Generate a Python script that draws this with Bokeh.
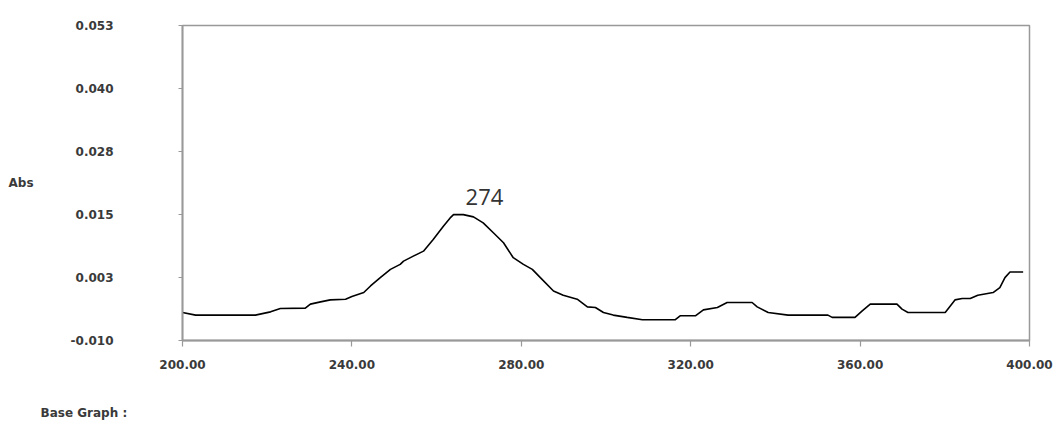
from bokeh.plotting import figure
from bokeh.models import Range1d, FixedTicker, NumeralTickFormatter, Label, Title
from bokeh.embed import file_html
from bokeh.resources import INLINE

# Wavelength (nm) and absorbance
wavelength = [200.0, 203.1, 217.2, 220.8, 223.1, 229.0, 230.2, 232.6, 234.9, 238.5,
              240.0, 242.8, 244.4, 246.7, 249.1, 251.4, 252.2, 254.5, 256.9, 259.2,
              261.6, 263.2, 264.0, 266.3, 268.7, 271.0, 273.4, 275.8, 278.1, 280.5,
              282.6, 284.5, 287.6, 289.9, 293.2, 295.6, 297.5, 299.4, 301.7, 305.0,
              308.6, 316.3, 317.5, 321.1, 323.0, 326.3, 328.6, 334.5, 335.7, 338.3,
              343.0, 352.4, 353.4, 358.8, 360.5, 362.4, 368.7, 369.9, 371.3, 380.1,
              382.4, 384.1, 386.0, 387.8, 391.4, 393.0, 394.2, 395.4, 398.5]
absorbance = [-0.00439, -0.00492, -0.00492, -0.00427, -0.00359, -0.00353, -0.00273, -0.00228, -0.00188, -0.00174,
              -0.00120, -0.00041, 0.00091, 0.00258, 0.00423, 0.00523, 0.00588, 0.00688, 0.00787, 0.01020,
              0.01285, 0.01452, 0.01518, 0.01518, 0.01472, 0.01353, 0.01154, 0.00955, 0.00656, 0.00523,
              0.00423, 0.00258, -0.00009, -0.00094, -0.00174, -0.00327, -0.00339, -0.00439, -0.00492, -0.00538,
              -0.00586, -0.00586, -0.00506, -0.00506, -0.00387, -0.00339, -0.00240, -0.00240, -0.00327, -0.00439,
              -0.00492, -0.00492, -0.00538, -0.00538, -0.00407, -0.00273, -0.00273, -0.00373, -0.00439, -0.00439,
              -0.00188, -0.00160, -0.00160, -0.00094, -0.00041, 0.00059, 0.00258, 0.00369, 0.00369]

x_ticks = [200, 240, 280, 320, 360, 400]
y_ticks = [-0.010, 0.0026, 0.0152, 0.0278, 0.0404, 0.053]
x_min, x_max = 200, 400
y_min, y_max = -0.010, 0.053

peak_text = "274"
peak_label_x = 271.3
peak_label_y = 0.0172
y_axis_title = "Abs"
footer_text = "Base Graph :"

p = figure(width=1053, height=422, output_backend="svg", toolbar_location=None,
           x_range=Range1d(x_min, x_max), y_range=Range1d(y_min, y_max),
           min_border_left=182, min_border_right=24, min_border_top=25, min_border_bottom=81)

p.background_fill_color = "white"
p.border_fill_color = "white"
p.outline_line_color = "#999999"
p.outline_line_width = 1.5
p.xgrid.visible = False
p.ygrid.visible = False

p.line(wavelength, absorbance, line_color="black", line_width=1.6)

axis_color = "#999999"
label_color = "#3a3a3a"

p.xaxis.ticker = FixedTicker(ticks=x_ticks)
p.xaxis.formatter = NumeralTickFormatter(format="0.00")
p.yaxis.ticker = FixedTicker(ticks=y_ticks)
p.yaxis.formatter = NumeralTickFormatter(format="0.000")

for ax in (p.xaxis[0], p.yaxis[0]):
    ax.axis_line_color = axis_color
    ax.axis_line_width = 1.8
    ax.major_tick_line_color = axis_color
    ax.major_tick_line_width = 1.2
    ax.major_tick_in = 0
    ax.minor_tick_line_color = None
    ax.major_label_text_font = "DejaVu Sans"
    ax.major_label_text_font_style = "bold"
    ax.major_label_text_font_size = "12px"
    ax.major_label_text_color = label_color

p.xaxis.major_tick_out = 6
p.xaxis.major_label_standoff = 13
p.yaxis.major_tick_out = 4
p.yaxis.major_label_standoff = 65

# blank x-axis label only reserves space so the footer sits near the bottom edge
p.xaxis.axis_label = " "
p.xaxis.axis_label_standoff = 12
p.xaxis.axis_label_text_font_size = "12px"

p.yaxis.axis_label = y_axis_title
p.yaxis.axis_label_orientation = "horizontal"
p.yaxis.axis_label_standoff = 34
p.yaxis.axis_label_text_font = "DejaVu Sans"
p.yaxis.axis_label_text_font_style = "bold"
p.yaxis.axis_label_text_font_size = "12px"
p.yaxis.axis_label_text_color = label_color

p.add_layout(Label(x=peak_label_x, y=peak_label_y, text=peak_text,
                   text_align="center", text_baseline="bottom",
                   text_font="Open Sans", text_font_size="22px", text_color="#333333"))

footer = Title(text=footer_text, align="left", offset=-142, standoff=6,
               text_font="DejaVu Sans", text_font_style="bold", text_font_size="12px",
               text_color=label_color)
p.add_layout(footer, "below")

open("out.html", "w").write(file_html(p, INLINE))
